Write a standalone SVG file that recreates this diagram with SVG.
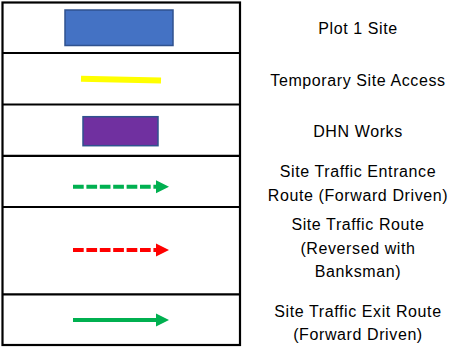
<svg xmlns="http://www.w3.org/2000/svg" width="465" height="352" viewBox="0 0 465 352">
<style>
.grid{stroke:#000;stroke-width:2.2;fill:none}
.lbl{font-family:"Liberation Sans",Arial,sans-serif;font-size:16px;letter-spacing:0.6px;fill:#000;text-anchor:middle}
.route{stroke-width:4;fill:none}
.dash{stroke-dasharray:10.7 2.7}
</style>
<defs>
<marker id="ahG" markerUnits="userSpaceOnUse" markerWidth="14" markerHeight="14" refX="0" refY="6.5" orient="auto" viewBox="0 0 14 13">
<path d="M0,0 L13,6.5 L0,13 z" fill="#00B050"/>
</marker>
<marker id="ahR" markerUnits="userSpaceOnUse" markerWidth="14" markerHeight="14" refX="0" refY="6.5" orient="auto" viewBox="0 0 14 13">
<path d="M0,0 L13,6.5 L0,13 z" fill="#FF0000"/>
</marker>
</defs>
<rect width="465" height="352" fill="#fff"/>
<g id="grid" class="grid">
<rect x="2.5" y="2.5" width="237.5" height="342.5"/>
<line x1="2.5" y1="53" x2="240" y2="53"/>
<line x1="2.5" y1="104.5" x2="240" y2="104.5"/>
<line x1="2.5" y1="155.8" x2="240" y2="155.8"/>
<line x1="2.5" y1="207" x2="240" y2="207"/>
<line x1="2.5" y1="294.3" x2="240" y2="294.3"/>
</g>
<g id="connectors"></g>
<g id="plot1-site">
<rect x="65" y="10" width="108" height="35.5" fill="#4472C4" stroke="#2F528F" stroke-width="1.5"/>
<text class="lbl" x="358" y="34">Plot 1 Site</text>
</g>
<g id="temporary-site-access">
<line x1="81" y1="78.7" x2="161" y2="80.5" stroke="#FFFF00" stroke-width="6"/>
<text class="lbl" x="358" y="86">Temporary Site Access</text>
</g>
<g id="dhn-works">
<rect x="83" y="116.7" width="75" height="29" fill="#7030A0" stroke="#2F528F" stroke-width="1.5"/>
<text class="lbl" x="358" y="136.5">DHN Works</text>
</g>
<g id="entrance-route">
<line class="route dash" x1="73" y1="186.7" x2="156" y2="186.7" stroke="#00B050" marker-end="url(#ahG)"/>
<text class="lbl" x="358" y="177">Site Traffic Entrance</text>
<text class="lbl" x="358" y="200.5">Route (Forward Driven)</text>
</g>
<g id="reversed-route">
<line class="route dash" x1="73" y1="250" x2="156" y2="250" stroke="#FF0000" marker-end="url(#ahR)"/>
<text class="lbl" x="358" y="230">Site Traffic Route</text>
<text class="lbl" x="358" y="253.5">(Reversed with</text>
<text class="lbl" x="358" y="277">Banksman)</text>
</g>
<g id="exit-route">
<line class="route" x1="73" y1="320" x2="156" y2="320" stroke="#00B050" marker-end="url(#ahG)"/>
<text class="lbl" x="358" y="316.5">Site Traffic Exit Route</text>
<text class="lbl" x="358" y="340">(Forward Driven)</text>
</g>
</svg>
